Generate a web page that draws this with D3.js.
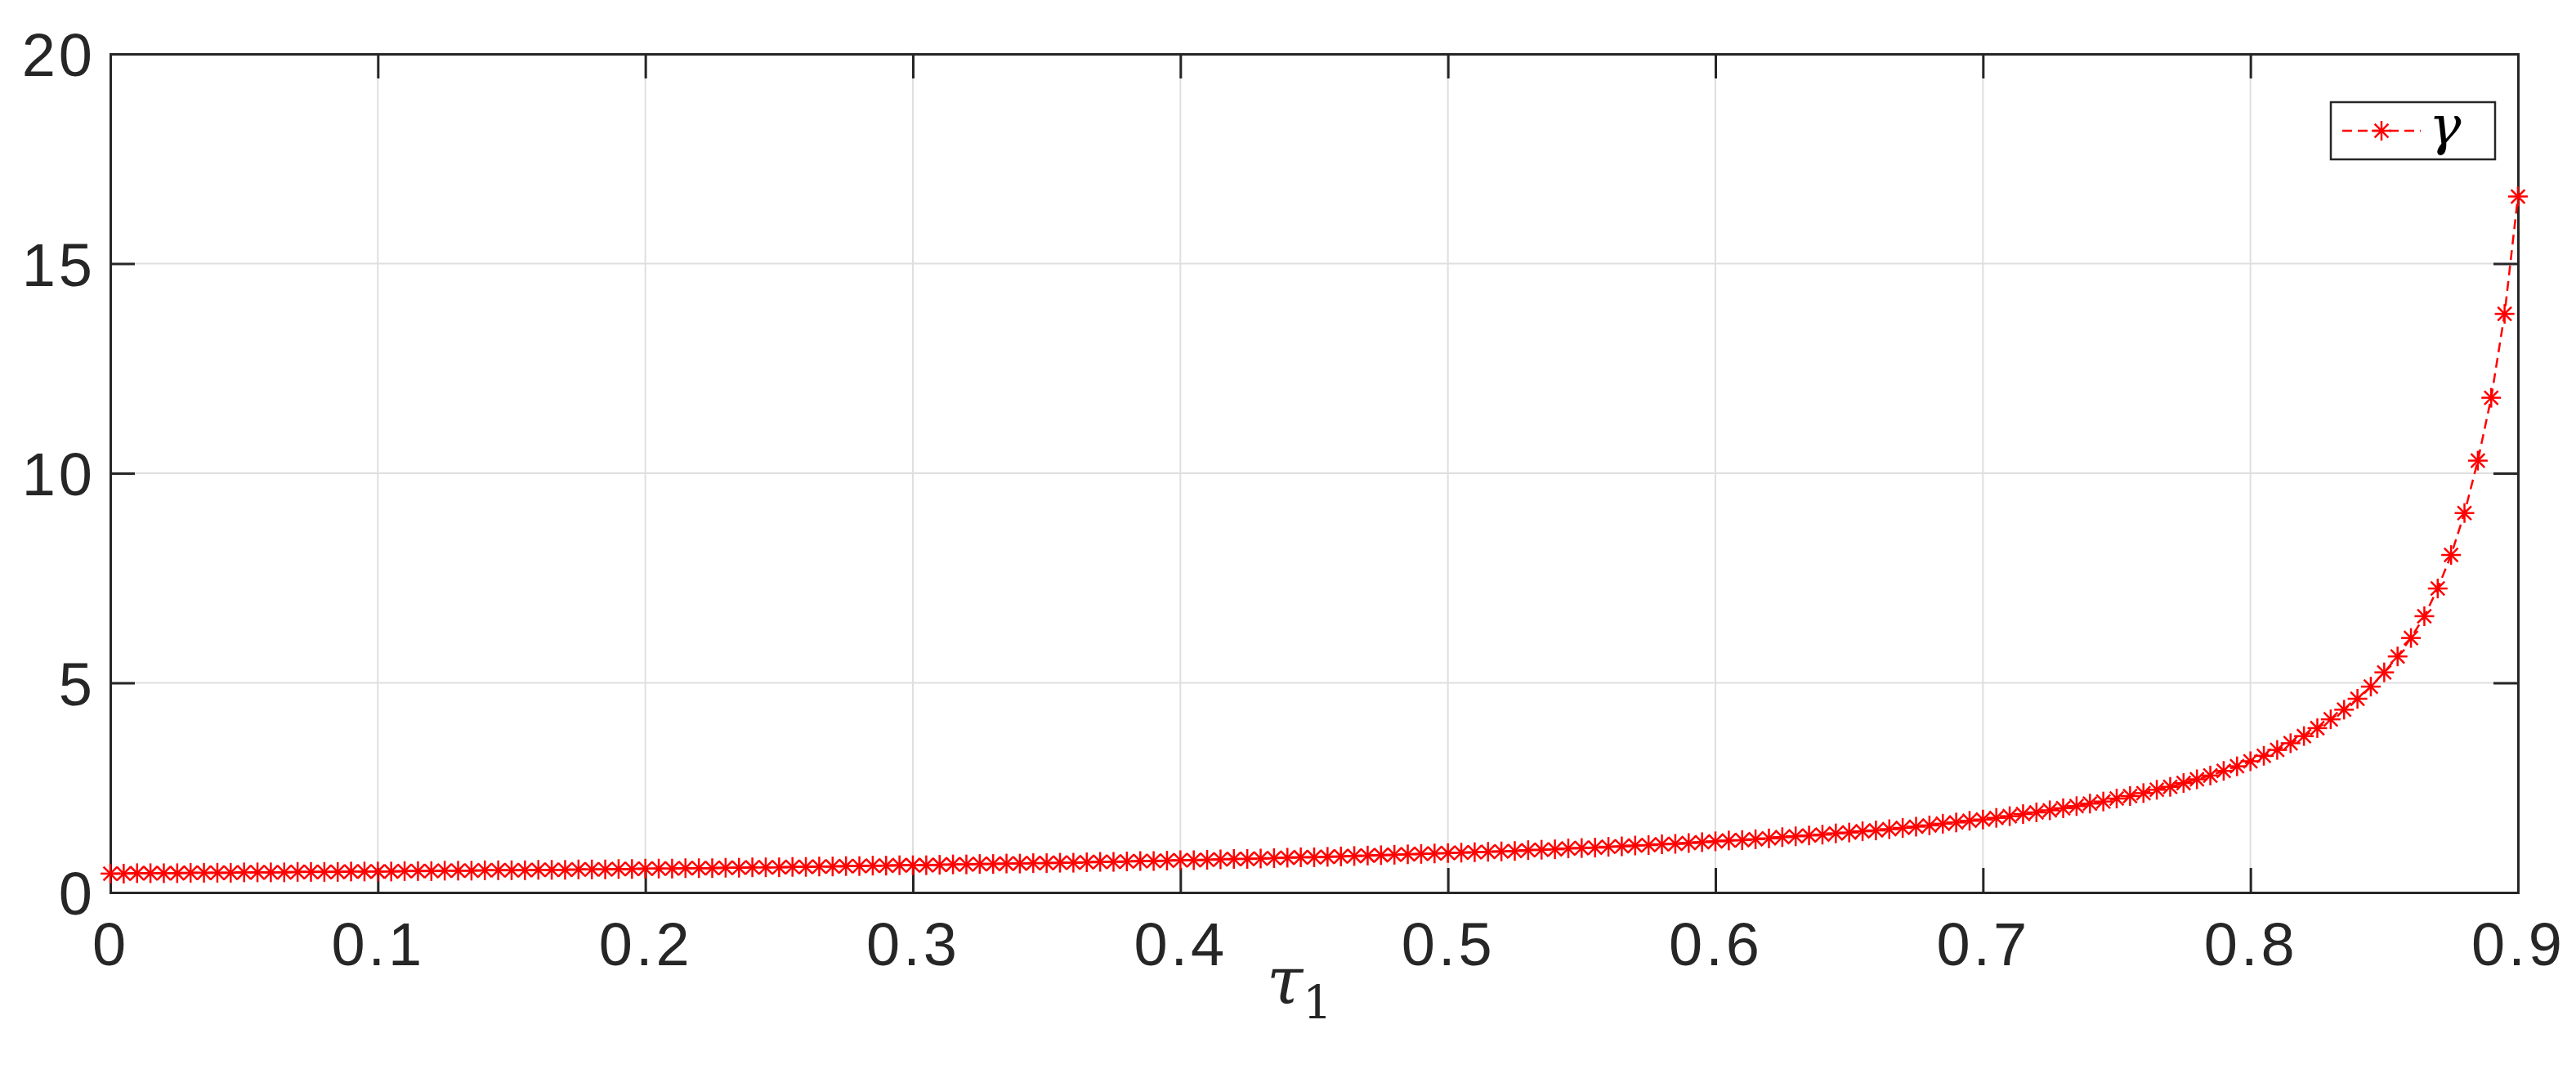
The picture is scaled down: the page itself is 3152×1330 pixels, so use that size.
<!DOCTYPE html>
<html><head><meta charset="utf-8">
<script src="https://cdn.jsdelivr.net/npm/d3@7"></script>
<style>body{margin:0;background:#fff}</style></head>
<body><svg id="c" width="3152" height="1330"></svg>
<script>
const tauStep = 0.005;
const gammaValues = [0.45,0.45,0.46,0.46,0.46,0.46,0.47,0.47,0.47,0.47,0.48,0.48,0.48,0.48,0.49,0.49,0.49,0.49,0.50,0.50,
0.50,0.50,0.51,0.51,0.51,0.52,0.52,0.52,0.53,0.53,0.53,0.53,0.54,0.54,0.54,0.55,0.55,0.55,0.56,0.56,
0.57,0.57,0.57,0.58,0.58,0.58,0.59,0.59,0.60,0.60,0.60,0.61,0.61,0.62,0.62,0.63,0.63,0.64,0.64,0.65,
0.65,0.65,0.66,0.67,0.67,0.68,0.68,0.69,0.69,0.70,0.70,0.71,0.71,0.72,0.73,0.73,0.74,0.75,0.75,0.76,
0.77,0.77,0.78,0.79,0.80,0.80,0.81,0.82,0.83,0.84,0.84,0.85,0.86,0.87,0.88,0.89,0.90,0.91,0.92,0.93,
0.94,0.95,0.96,0.97,0.98,0.99,1.01,1.02,1.03,1.05,1.06,1.07,1.09,1.10,1.12,1.13,1.15,1.16,1.18,1.20,
1.22,1.24,1.25,1.27,1.29,1.32,1.34,1.36,1.38,1.41,1.43,1.46,1.48,1.51,1.54,1.57,1.60,1.64,1.67,1.71,
1.74,1.78,1.82,1.87,1.91,1.96,2.01,2.06,2.12,2.17,2.24,2.30,2.37,2.45,2.52,2.61,2.70,2.79,2.90,3.01,
3.13,3.26,3.40,3.56,3.73,3.92,4.13,4.36,4.62,4.91,5.25,5.63,6.07,6.59,7.25,8.05,9.05,10.3,11.8,13.8,
16.6];
const xTicks = [0,0.1,0.2,0.3,0.4,0.5,0.6,0.7,0.8,0.9];
const yTicks = [0,5,10,15,20];
const data = gammaValues.map((g,i)=>({t:+(i*tauStep).toFixed(3), g}));

const L=135,R=3081,T=66,B=1092;
const svg=d3.select("#c");
const x=d3.scaleLinear().domain([0,0.9]).range([L,R]);
const y=d3.scaleLinear().domain([0,20]).range([B,T]);
const font="'Liberation Sans', Arial, sans-serif";
svg.append("g").selectAll("line").data(xTicks.slice(1,-1)).join("line")
 .attr("x1",d=>x(d)).attr("x2",d=>x(d)).attr("y1",T).attr("y2",B).attr("stroke","#dfdfdf").attr("stroke-width",2);
svg.append("g").selectAll("line").data(yTicks.slice(1,-1)).join("line")
 .attr("y1",d=>y(d)).attr("y2",d=>y(d)).attr("x1",L).attr("x2",R).attr("stroke","#dfdfdf").attr("stroke-width",2);
const ax=svg.append("g").attr("transform",`translate(0,${B})`).call(d3.axisBottom(x).tickValues(xTicks).tickSize(-30).tickPadding(36).tickFormat(d=>d===0?"0":d3.format(".1f")(d)));
const ay=svg.append("g").attr("transform",`translate(${L},0)`).call(d3.axisLeft(y).tickValues(yTicks).tickSize(-30).tickPadding(18));
const axt=svg.append("g").attr("transform",`translate(0,${T})`).call(d3.axisTop(x).tickValues(xTicks).tickSize(-30).tickFormat(""));
const ayr=svg.append("g").attr("transform",`translate(${R},0)`).call(d3.axisRight(y).tickValues(yTicks).tickSize(-30).tickFormat(""));
[ax,ay,axt,ayr].forEach(g=>{g.selectAll("path,line").attr("stroke","#262626").attr("stroke-width",3);
 g.selectAll("text").attr("font-family",font).attr("font-size",74).attr("letter-spacing",4).attr("fill","#262626");});
ay.selectAll("text").attr("dy","0.36em");
svg.append("path").datum(data).attr("fill","none").attr("stroke","#ff0000").attr("stroke-width",2.5)
 .attr("stroke-dasharray","12,7").attr("d",d3.line().x(d=>x(d.t)).y(d=>y(d.g)));
const star=(s,cx,cy,r)=>{const g=s.append("g").attr("transform",`translate(${cx},${cy})`).attr("stroke","#ff0000").attr("stroke-width",2.5);
 g.append("line").attr("x1",-r).attr("x2",r);
 g.append("line").attr("y1",-r).attr("y2",r);
 const k=r*0.7; g.append("line").attr("x1",-k).attr("y1",-k).attr("x2",k).attr("y2",k);
 g.append("line").attr("x1",-k).attr("y1",k).attr("x2",k).attr("y2",-k);};
const mg=svg.append("g");
data.forEach(d=>star(mg,x(d.t),y(d.g),12));
const xl=svg.append("text").attr("x",1590).attr("y",1228).attr("text-anchor","middle").attr("font-family","'DejaVu Serif', serif").attr("font-style","italic").attr("font-size",80).attr("fill","#262626");
xl.append("tspan").text("τ");
xl.append("tspan").attr("font-style","normal").attr("font-size",56).attr("dy",18).text("1");
svg.append("rect").attr("x",2852).attr("y",125).attr("width",201).attr("height",70).attr("fill","#fff").attr("stroke","#262626").attr("stroke-width",2.5);
svg.append("line").attr("x1",2866).attr("x2",2962).attr("y1",160).attr("y2",160).attr("stroke","#ff0000").attr("stroke-width",2.5).attr("stroke-dasharray","12,7");
star(svg,2914,160,12);
svg.append("text").attr("x",2972).attr("y",176).attr("font-family","'DejaVu Serif', serif").attr("font-style","italic").attr("font-size",66).attr("fill","#000").text("γ");
</script></body></html>
